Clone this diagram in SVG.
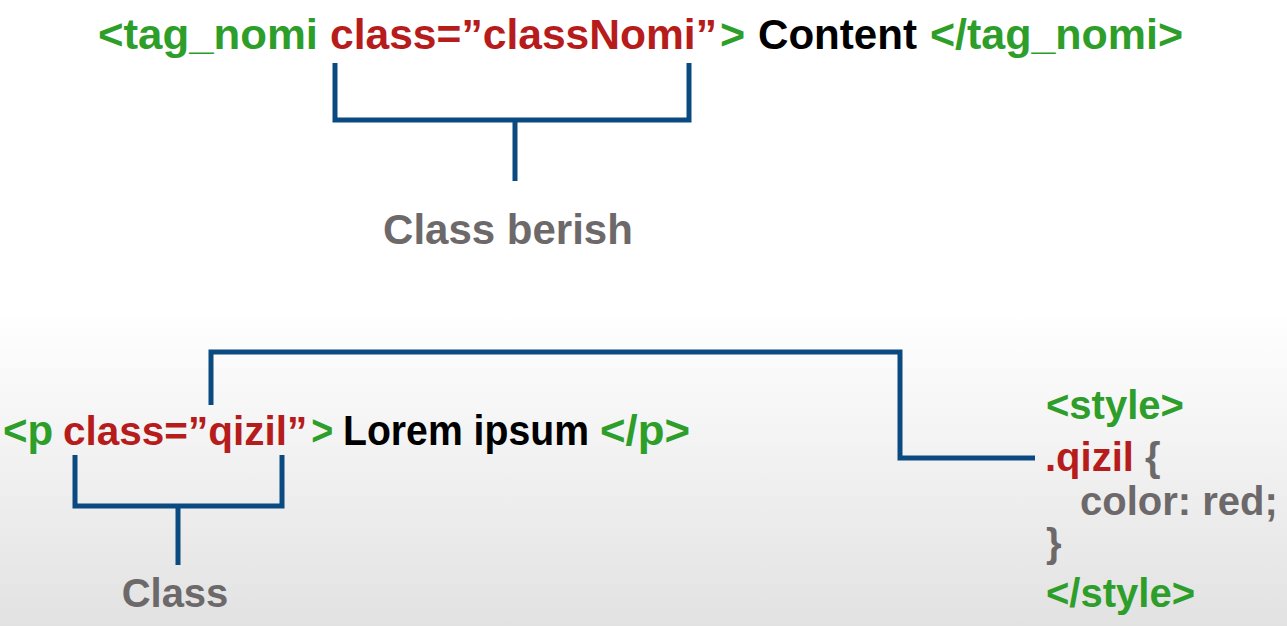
<svg xmlns="http://www.w3.org/2000/svg" width="1287" height="626" viewBox="0 0 1287 626">
<defs>
<linearGradient id="bg" x1="0" y1="0" x2="0" y2="1">
<stop offset="0" stop-color="#ffffff"/>
<stop offset="0.5" stop-color="#ffffff"/>
<stop offset="1" stop-color="#e2e2e2"/>
</linearGradient>
<style>
text{font-family:"Liberation Sans",Arial,sans-serif;font-weight:bold;}
.g{fill:#2e9e2a}
.r{fill:#b71c1c}
.k{fill:#000}
.gr{fill:#6d696a}
.ln{fill:none;stroke:#0b4a80;stroke-width:5;stroke-linejoin:miter;stroke-linecap:butt}
</style>
</defs>
<rect width="1287" height="626" fill="url(#bg)"/>
<g id="top-code" font-size="43">
<text y="49"><tspan x="98" class="g" textLength="220" lengthAdjust="spacingAndGlyphs">&lt;tag_nomi</tspan><tspan x="330" class="r" textLength="387" lengthAdjust="spacingAndGlyphs">class=”classNomi”</tspan><tspan dx="3" class="g">&gt;</tspan><tspan x="758" class="k" textLength="159" lengthAdjust="spacingAndGlyphs">Content</tspan><tspan x="930" class="g" textLength="253" lengthAdjust="spacingAndGlyphs">&lt;/tag_nomi&gt;</tspan></text>
</g>
<g id="label-class-berish">
<text x="508" y="244" font-size="42" class="gr" text-anchor="middle">Class berish</text>
</g>
<g id="p-code" font-size="42">
<text y="445"><tspan x="3" class="g">&lt;p</tspan><tspan x="63" class="r" font-size="40.5">class=”qizil”</tspan><tspan dx="4" class="g" textLength="22" lengthAdjust="spacingAndGlyphs">&gt;</tspan><tspan x="343" class="k" textLength="246" lengthAdjust="spacingAndGlyphs">Lorem ipsum</tspan><tspan x="600" class="g" textLength="90" lengthAdjust="spacingAndGlyphs">&lt;/p&gt;</tspan></text>
</g>
<g id="label-class">
<text x="175" y="607" font-size="40" class="gr" text-anchor="middle">Class</text>
</g>
<g id="style-block" font-size="40">
<text x="1046" y="419" class="g">&lt;style&gt;</text>
<text x="1045" y="471"><tspan class="r">.qizil</tspan><tspan class="gr"> {</tspan></text>
<text x="1080" y="515" class="gr">color: red;</text>
<text x="1046" y="557" class="gr">}</text>
<text x="1046" y="607" class="g">&lt;/style&gt;</text>
</g>
<g id="connectors">
<path class="ln" d="M335,63 V120 H689 V63 M515,120 V181"/>
<path class="ln" d="M75,455 V506 H282 V455 M178,506 V565"/>
<path class="ln" d="M211,405 V352 H900 V458 H1035"/>
</g>
</svg>
